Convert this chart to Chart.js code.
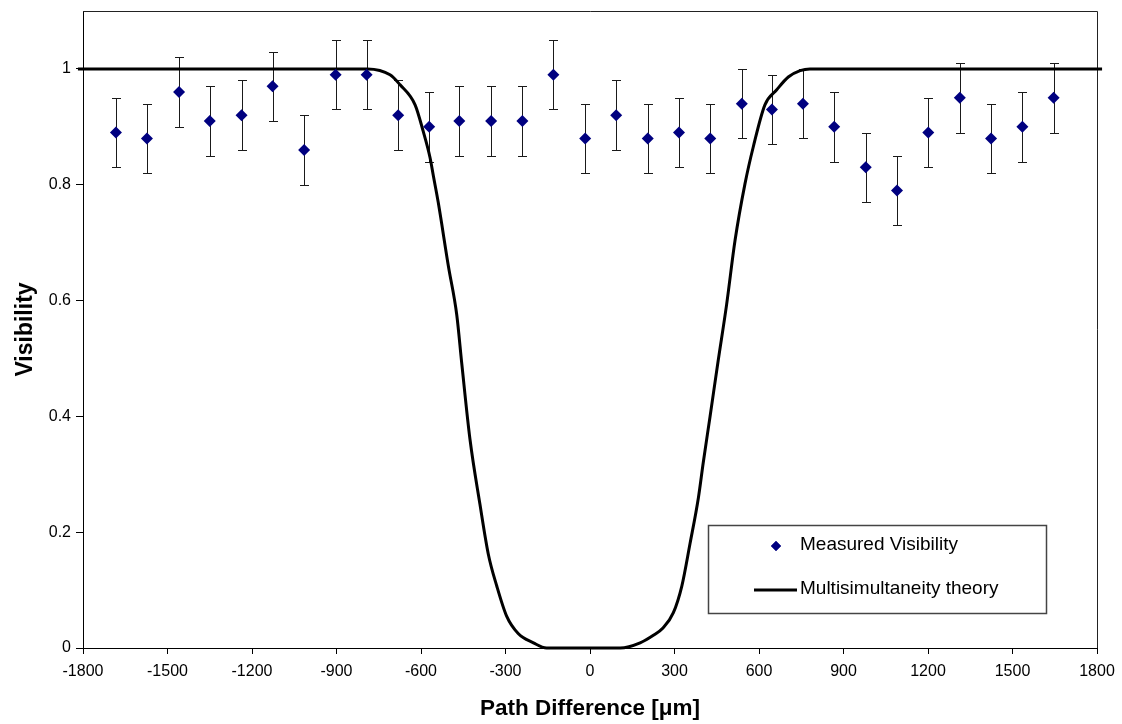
<!DOCTYPE html>
<html>
<head>
<meta charset="utf-8">
<script src="https://cdn.jsdelivr.net/npm/chart.js@4/dist/chart.umd.min.js"></script>
<style>
  html, body { margin: 0; padding: 0; background: #fff; }
  #wrap { width: 1122px; height: 724px; }
</style>
</head>
<body>
<div id="wrap"><canvas id="visChart" width="1122" height="724"></canvas></div>
<script>
// measured points (path difference in um, visibility, error)
var pathDiff = [-1683, -1573, -1459, -1350, -1237, -1127, -1015, -903, -793, -681, -571, -464, -351, -240, -130, -17,
                93, 205, 316, 427, 539, 646, 756, 867, 979, 1090, 1201, 1313, 1424, 1535, 1646];
var visibility = [0.89, 0.88, 0.96, 0.91, 0.92, 0.97, 0.86, 0.99, 0.99, 0.92, 0.90, 0.91, 0.91, 0.91, 0.99, 0.88,
                  0.92, 0.88, 0.89, 0.88, 0.94, 0.93, 0.94, 0.90, 0.83, 0.79, 0.89, 0.95, 0.88, 0.90, 0.95];
var visError = [0.06, 0.06, 0.06, 0.06, 0.06, 0.06, 0.06, 0.06, 0.06, 0.06, 0.06, 0.06, 0.06, 0.06, 0.06, 0.06,
                0.06, 0.06, 0.06, 0.06, 0.06, 0.06, 0.06, 0.06, 0.06, 0.06, 0.06, 0.06, 0.06, 0.06, 0.06];

// theory curve
var theoryX = [-1818, -790, -710, -675, -621, -592, -568, -556, -539, -503, -473, -455, -426, -391, -361, -331,
               -296, -255, -201, -154, 107, 178, 225, 260, 296, 326, 355, 385, 402, 426, 455, 485, 515, 550,
               580, 621, 663, 704, 746, 781, 1818];
var theoryY = [1, 1, 0.990, 0.973, 0.938, 0.892, 0.847, 0.815, 0.770, 0.660, 0.575, 0.490, 0.360, 0.249, 0.162, 0.107,
               0.055, 0.025, 0.009, 0, 0, 0.009, 0.022, 0.035, 0.061, 0.107, 0.180, 0.260, 0.320, 0.399, 0.496,
               0.593, 0.704, 0.801, 0.866, 0.938, 0.964, 0.986, 0.997, 1, 1];

var seriesNames = ['Measured Visibility', 'Multisimultaneity theory'];
var xTitle = 'Path Difference [\u03bcm]';
var yTitle = 'Visibility';

var FONT = '"Liberation Sans", Arial, sans-serif';

var measured = pathDiff.map(function (x, i) { return { x: x, y: visibility[i] }; });
var theory = theoryX.map(function (x, i) { return { x: x, y: theoryY[i] }; });

// error bars drawn through the scales
var errorBars = {
  id: 'errorBars',
  beforeDatasetsDraw: function (chart) {
    var ctx = chart.ctx, xs = chart.scales.x, ys = chart.scales.y;
    ctx.save();
    ctx.strokeStyle = '#1a1a1a';
    ctx.lineWidth = 1;
    for (var i = 0; i < pathDiff.length; i++) {
      var px = Math.round(xs.getPixelForValue(pathDiff[i])) + 0.5;
      var top = Math.round(ys.getPixelForValue(visibility[i] + visError[i])) + 0.5;
      var bot = Math.round(ys.getPixelForValue(visibility[i] - visError[i])) + 0.5;
      ctx.beginPath();
      ctx.moveTo(px, top); ctx.lineTo(px, bot);
      ctx.moveTo(px - 4.5, top); ctx.lineTo(px + 4.5, top);
      ctx.moveTo(px - 4.5, bot); ctx.lineTo(px + 4.5, bot);
      ctx.stroke();
    }
    ctx.restore();
  }
};

// top and right edges of the plot box
var plotBox = {
  id: 'plotBox',
  beforeDatasetsDraw: function (chart) {
    var a = chart.chartArea, ctx = chart.ctx;
    ctx.save();
    ctx.strokeStyle = '#222';
    ctx.lineWidth = 1;
    ctx.beginPath();
    ctx.moveTo(a.left, a.top + 0.5);
    ctx.lineTo(a.right + 0.5, a.top + 0.5);
    ctx.lineTo(a.right + 0.5, a.bottom);
    ctx.stroke();
    ctx.restore();
  }
};

// boxed legend in the lower right
var boxLegend = {
  id: 'boxLegend',
  afterDraw: function (chart) {
    var ctx = chart.ctx;
    var bx = 708, by = 525, bw = 338, bh = 88;
    ctx.save();
    ctx.fillStyle = '#fff';
    ctx.fillRect(bx, by, bw, bh);
    ctx.strokeStyle = '#444';
    ctx.lineWidth = 1.5;
    ctx.strokeRect(bx + 0.5, by + 0.5, bw, bh);

    ctx.fillStyle = '#000080';
    Chart.helpers.drawPoint(ctx, { pointStyle: 'rectRot', radius: 5, borderWidth: 0 }, 776, 546);
    ctx.fill();

    ctx.strokeStyle = '#000';
    ctx.lineWidth = 3;
    ctx.beginPath();
    ctx.moveTo(754, 590); ctx.lineTo(797, 590);
    ctx.stroke();

    ctx.fillStyle = '#000';
    ctx.font = '19px ' + FONT;
    ctx.textBaseline = 'middle';
    ctx.textAlign = 'left';
    ctx.fillText(chart.data.datasets[0].label, 800, 545);
    ctx.fillText(chart.data.datasets[1].label, 800, 589);
    ctx.restore();
  }
};

new Chart(document.getElementById('visChart'), {
  type: 'scatter',
  data: {
    datasets: [{
      label: seriesNames[0],
      data: measured,
      pointStyle: 'rectRot',
      pointRadius: 6,
      pointBackgroundColor: '#000080',
      pointBorderColor: '#000080',
      pointBorderWidth: 0,
      showLine: false
    }, {
      label: seriesNames[1],
      data: theory,
      showLine: true,
      borderColor: '#000',
      borderWidth: 3,
      pointRadius: 0,
      cubicInterpolationMode: 'monotone',
      clip: false
    }]
  },
  options: {
    responsive: false,
    animation: false,
    events: [],
    layout: { padding: { top: 11, right: 25, left: 0, bottom: 0 } },
    plugins: { legend: { display: false }, tooltip: { enabled: false } },
    scales: {
      x: {
        type: 'linear',
        min: -1800, max: 1800,
        ticks: {
          stepSize: 300,
          color: '#000',
          font: { family: FONT, size: 16 },
          padding: 8,
          maxRotation: 0,
          autoSkip: false,
          callback: function (v) { return String(v); }
        },
        grid: { drawOnChartArea: false, drawTicks: true, tickLength: 6, tickColor: '#000' },
        border: { display: true, color: '#000', width: 1 },
        title: {
          display: true, text: xTitle, color: '#000',
          font: { family: FONT, size: 22.5, weight: 'bold' },
          padding: { top: 0, bottom: 2 }
        },
        afterFit: function (s) { s.height = 76; s.paddingLeft = 0; s.paddingRight = 0; }
      },
      y: {
        type: 'linear',
        min: 0, max: 1.1,
        ticks: {
          stepSize: 0.2,
          color: '#000',
          font: { family: FONT, size: 16 },
          padding: 5,
          callback: function (v) { return String(+v.toFixed(1)); }
        },
        afterBuildTicks: function (s) {
          s.ticks = s.ticks.filter(function (t) { return t.value <= 1.0001; });
        },
        grid: { drawOnChartArea: false, drawTicks: true, tickLength: 7, tickColor: '#000' },
        border: { display: true, color: '#000', width: 1 },
        title: {
          display: true, text: yTitle, color: '#000',
          font: { family: FONT, size: 23, weight: 'bold' },
          padding: { top: 12, bottom: 0 }
        },
        afterFit: function (s) { s.width = 83; s.paddingTop = 0; s.paddingBottom = 0; }
      }
    }
  },
  plugins: [plotBox, errorBars, boxLegend]
});
</script>
</body>
</html>
